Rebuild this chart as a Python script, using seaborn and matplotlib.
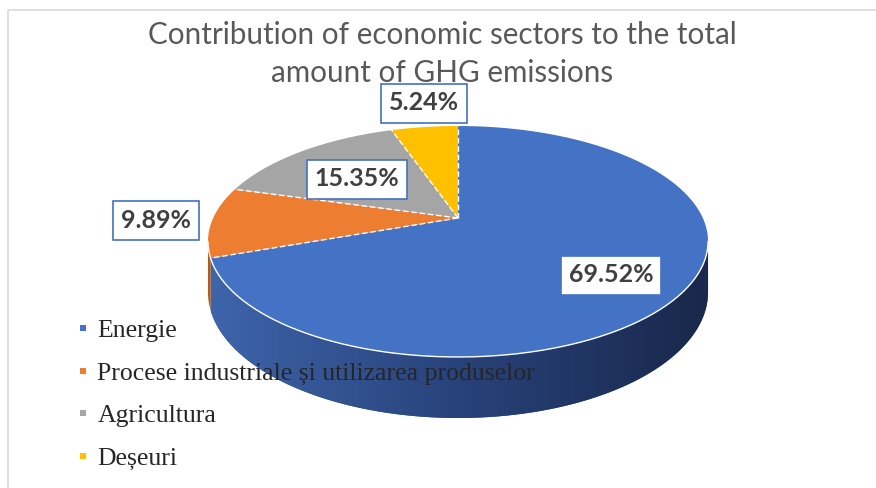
import numpy as np
import matplotlib
matplotlib.use("Agg")
import matplotlib.pyplot as plt
from matplotlib.patches import Polygon
from matplotlib.lines import Line2D
import seaborn as sns

# Sector shares of total GHG emissions (%)
sectors = ["Energie", "Procese industriale și utilizarea produselor", "Agricultura", "Deșeuri"]
shares = [69.52, 9.89, 15.35, 5.24]
top_colors = ["#4472C4", "#ED7D31", "#A5A5A5", "#FFC000"]
side_colors = ["#2E4F8C", "#B05A1F", "#777777", "#BF9000"]
title = "Contribution of economic sectors to the total\namount of GHG emissions"

# label box centres (pixels)
label_pos = [(611, 275), (156, 220), (357, 179), (424, 103)]

sns.set_theme(style="white")
plt.rcParams["font.family"] = ["Lato", "DejaVu Sans"]

W, H = 876, 488
fig = plt.figure(figsize=(W / 100, H / 100), dpi=100)
ax = fig.add_axes([0, 0, 1, 1])
ax.set_xlim(0, W)
ax.set_ylim(H, 0)
ax.axis("off")

# chart frame
ax.plot([8, 8, W], [H, 10, 10], color="#D9D9D9", lw=1.2, solid_capstyle="butt")

# perspective projection of a tilted disc
CX, CY = 458, 218
A, B, P = 244.8, 110.7, 0.2035
D0 = 48.6


def rim(theta):
    t = np.radians(theta)
    u, v = np.sin(t), np.cos(t)
    s = 1.0 / (1.0 + P * v)
    return CX + A * u * s, CY - B * v * s


def depth(theta):
    v = np.cos(np.radians(theta))
    return D0 / (1.0 + P * v)


theta_r = np.degrees(np.arctan2(np.sqrt(1 - P ** 2), -P))   # right silhouette
theta_l = 360 - theta_r                                      # left silhouette

cum = np.concatenate([[0], np.cumsum(shares)])
starts = cum[:-1] / cum[-1] * 360
ends = cum[1:] / cum[-1] * 360

# side walls (front half only)
for i in range(len(shares)):
    a0, a1 = max(starts[i], theta_r), min(ends[i], theta_l)
    if a1 <= a0:
        continue
    th = np.linspace(a0, a1, 200)
    xt, yt = rim(th)
    yb = yt + depth(th)
    verts = np.column_stack([np.concatenate([xt, xt[::-1]]),
                             np.concatenate([yt, yb[::-1]])])
    poly = Polygon(verts, closed=True, fc=side_colors[i], ec="none", zorder=2)
    ax.add_patch(poly)
    if i == 0:
        # shaded wall: lighter on the left, darker on the right
        c_left = np.array([62, 100, 170]) / 255
        c_mid = np.array([40, 66, 122]) / 255
        c_right = np.array([25, 40, 75]) / 255
        n = 256
        f = np.linspace(0, 1, n)[:, None]
        grad = np.where(f < 0.5, c_left + (c_mid - c_left) * f * 2,
                        c_mid + (c_right - c_mid) * (f - 0.5) * 2)
        img = ax.imshow(grad[None, :, :], extent=(xt.min(), xt.max(), yb.max() + 2, yt.min() - 2),
                        aspect="auto", zorder=2.1, interpolation="bilinear")
        img.set_clip_path(poly)

# top face slices
for i in range(len(shares)):
    th = np.linspace(starts[i], ends[i], 300)
    xs, ys = rim(th)
    verts = np.column_stack([np.concatenate([[CX], xs]), np.concatenate([[CY], ys])])
    ax.add_patch(Polygon(verts, closed=True, fc=top_colors[i], ec="none", zorder=3))

# white rim on the front edge
th = np.linspace(theta_r, theta_l, 300)
xs, ys = rim(th)
ax.plot(xs, ys, color="white", lw=1.0, zorder=4)

# white dashed slice borders
for a in starts:
    x1, y1 = rim(a)
    ax.plot([CX, x1], [CY, y1], color="white", lw=1.0, ls=(0, (4, 2)), zorder=4)

# value labels
for i, v in enumerate(shares):
    x, y = label_pos[i]
    ax.text(x, y, f"{v:.2f}%", ha="center", va="center", fontsize=18, fontweight="bold",
            color="#404040", zorder=6,
            bbox=dict(boxstyle="square,pad=0.32", fc="white", ec="#4472C4", lw=1.2))

# title
ax.text(442, 54, title, ha="center", va="center", fontsize=21.3, fontweight="normal",
        color="#595959", linespacing=1.4, zorder=6)

# legend
handles = [Line2D([], [], marker="s", ls="none", markersize=5, color=c, markeredgewidth=0)
           for c in top_colors]
leg = ax.legend(handles, sectors, loc="upper left", bbox_to_anchor=(64 / W, 1 - 306 / H),
                frameon=False, handlelength=0.5, handletextpad=0.3, labelspacing=0.77,
                borderpad=0, prop={"family": "Liberation Serif", "size": 18.5})
leg.set_zorder(7)

fig.savefig("out.png", dpi=100)
